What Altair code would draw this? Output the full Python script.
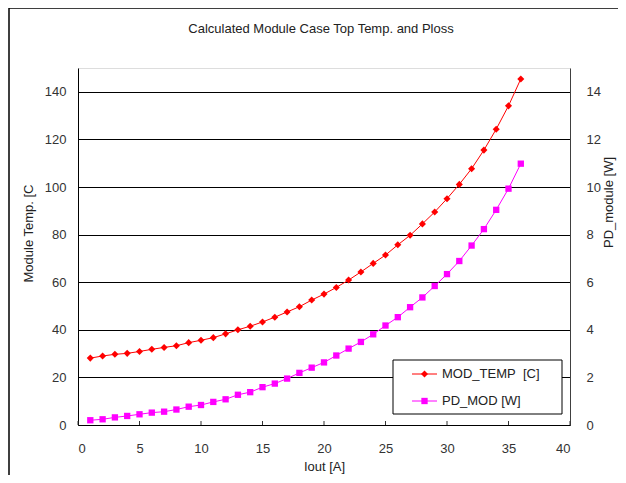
import altair as alt
import pandas as pd

# ---- data ----
iout = list(range(1, 37))
mod_temp = [28.1, 29.0, 29.7, 30.1, 30.9, 31.8, 32.6, 33.3, 34.6, 35.6,
            36.7, 38.3, 40.0, 41.5, 43.3, 45.3, 47.5, 49.7, 52.5, 55.0,
            57.8, 60.9, 64.3, 67.9, 71.4, 75.7, 79.7, 84.5, 89.5, 95.1,
            101.1, 107.7, 115.5, 124.3, 134.1, 145.4]
pd_mod = [0.20, 0.24, 0.32, 0.38, 0.45, 0.52, 0.56, 0.65, 0.77, 0.84,
          0.97, 1.08, 1.27, 1.38, 1.59, 1.74, 1.95, 2.19, 2.41, 2.63,
          2.92, 3.21, 3.49, 3.81, 4.18, 4.53, 4.95, 5.36, 5.84, 6.34,
          6.89, 7.54, 8.23, 9.04, 9.93, 10.98]
x_ticks = [0, 5, 10, 15, 20, 25, 30, 35, 40]
left_ticks = [0, 20, 40, 60, 80, 100, 120, 140]
right_ticks = [0, 2, 4, 6, 8, 10, 12, 14]
legend_labels = ["MOD_TEMP\u00a0 [C]", "PD_MOD [W]"]
chart_title = "Calculated Module Case Top Temp. and Ploss"

W, H = 492, 357
FONT = "Liberation Sans"

df = pd.DataFrame({"Iout": iout, "MOD_TEMP": mod_temp, "PD_MOD": pd_mod})
one = pd.DataFrame({"k": [0]})
ticks_df = pd.DataFrame({"Iout": x_ticks})

xscale = alt.Scale(domain=[0, 40], nice=False, zero=False)
xaxis = alt.Axis(values=x_ticks, grid=False, ticks=False, labelPadding=17,
                 title="Iout [A]", titleY=41, titleBaseline="middle",
                 domainColor="black", labelColor="#333", titleColor="#222",
                 labelFontSize=13, titleFontSize=13, titleFontWeight="normal",
                 labelFont=FONT, titleFont=FONT)
X = alt.X("Iout:Q", scale=xscale, axis=xaxis, title="Iout [A]")

# outer frame
frame = alt.Chart(one).mark_rect(fill=None, stroke="black", strokeWidth=1.5).encode(
    x=alt.value(-69), x2=alt.value(W + 80), y=alt.value(-60), y2=alt.value(H + 80))

title = alt.Chart(one).mark_text(align="center", baseline="middle", fontSize=13, font=FONT,
                                 color="#222").encode(
    x=alt.value(243), y=alt.value(-39), text=alt.value(chart_title))

temp = alt.Chart(df).mark_line(
    color="#FF0000", strokeWidth=1,
    point=alt.OverlayMarkDef(shape="diamond", size=50, filled=True, color="#FF0000")
).encode(
    x=X,
    y=alt.Y("MOD_TEMP:Q", scale=alt.Scale(domain=[0, 150], nice=False),
            axis=alt.Axis(values=left_ticks, orient="left", grid=True, gridColor="black",
                          gridWidth=1, gridOpacity=1, ticks=False, labelPadding=12,
                          domainColor="black", title="Module Temp. [C",
                          titleAngle=270, titleX=-50, titleY=165, titleAlign="center",
                          titleBaseline="middle", labelColor="#333", titleColor="#222",
                          labelFontSize=13, titleFontSize=13, titleFontWeight="normal",
                          labelFont=FONT, titleFont=FONT))
)

pdm = alt.Chart(df).mark_line(
    color="#FF00FF", strokeWidth=1,
    point=alt.OverlayMarkDef(shape="square", size=40, filled=True, color="#FF00FF")
).encode(
    x=X,
    y=alt.Y("PD_MOD:Q", scale=alt.Scale(domain=[0, 15], nice=False),
            axis=alt.Axis(values=right_ticks, orient="right", grid=False, ticks=False,
                          labelPadding=16, domainColor="#404040", title="PD_module [W]",
                          titleAngle=270, titleX=38, titleY=134, titleAlign="center",
                          titleBaseline="middle", labelColor="#333", titleColor="#222",
                          labelFontSize=13, titleFontSize=13, titleFontWeight="normal",
                          labelFont=FONT, titleFont=FONT))
)

xticks = alt.Chart(ticks_df).mark_rule(color="#333", strokeWidth=1).encode(
    x=X, y=alt.value(H - 4), y2=alt.value(H))

# legend
LX0, LX1, LY0, LY1 = 315, 484, 292, 346
leg_box = alt.Chart(one).mark_rect(fill="white", stroke="black", strokeWidth=1).encode(
    x=alt.value(LX0), x2=alt.value(LX1), y=alt.value(LY0), y2=alt.value(LY1))
leg_l1 = alt.Chart(one).mark_rule(color="#FF0000", strokeWidth=1).encode(
    x=alt.value(334), x2=alt.value(359), y=alt.value(306))
leg_p1 = alt.Chart(one).mark_point(shape="diamond", size=50, filled=True, color="#FF0000",
                                   opacity=1).encode(x=alt.value(346.5), y=alt.value(306))
leg_t1 = alt.Chart(one).mark_text(align="left", baseline="middle", fontSize=13, font=FONT,
                                  color="#222").encode(
    x=alt.value(364), y=alt.value(306), text=alt.value(legend_labels[0]))
leg_l2 = alt.Chart(one).mark_rule(color="#FF00FF", strokeWidth=1).encode(
    x=alt.value(334), x2=alt.value(359), y=alt.value(333))
leg_p2 = alt.Chart(one).mark_point(shape="square", size=40, filled=True, color="#FF00FF",
                                   opacity=1).encode(x=alt.value(346.5), y=alt.value(333))
leg_t2 = alt.Chart(one).mark_text(align="left", baseline="middle", fontSize=13, font=FONT,
                                  color="#222").encode(
    x=alt.value(364), y=alt.value(333), text=alt.value(legend_labels[1]))

chart = alt.layer(
    frame, title, xticks, temp, pdm, leg_box, leg_l1, leg_p1, leg_t1, leg_l2, leg_p2, leg_t2
).resolve_scale(y="independent").properties(
    width=W, height=H,
    autosize=alt.AutoSizeParams(type="none"),
    padding={"left": 70, "top": 60, "right": 48, "bottom": 50},
).configure_view(fill="#C0C0C0", stroke="#808080", strokeWidth=1).configure(
    background="white")

chart.save("out.html", embed_options={"renderer": "svg", "actions": False})
